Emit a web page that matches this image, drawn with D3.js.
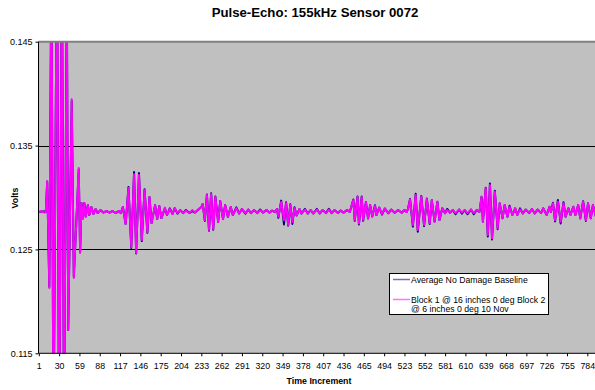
<!DOCTYPE html>
<html><head><meta charset="utf-8">
<script src="https://cdn.jsdelivr.net/npm/d3@7"></script>
<style>
html,body{margin:0;padding:0;background:#fff;}
svg{display:block;font-family:"Liberation Sans",Arial,sans-serif;}
</style></head>
<body><svg id="c" width="595" height="390"></svg>
<script>
// ---- data ----
const chartTitle = "Pulse-Echo: 155kHz Sensor 0072";
const xTitle = "Time Increment";
const yTitle = "Volts";
const seriesNames = ["Average No Damage Baseline", "Block 1 @ 16 inches 0 deg Block 2", "@ 6 inches 0 deg 10 Nov"];
const xTickLabels = [1,30,59,88,117,146,175,204,233,262,291,320,349,378,407,436,465,494,523,552,581,610,639,668,697,726,755,784];
const yTickValues = [0.115,0.125,0.135,0.145];

const sampleIdx = [
1,5,9,11,13,16,19,22,27,30,34,37,41,43,48,51,58,60,62,64,66,68,71,73,76,79,82,85,89,93,98,102,106,111,115,118,
121,125,129,133,137,140,144,148,152,156,159,162,167,170,173,176,181,184,188,192,195,199,203,207,211,216,220,224,228,
233,235,238,241,244,247,250,253,257,260,264,267,271,275,278,283,287,291,296,300,304,308,313,317,321,326,330,334,338,
341,343,347,351,354,357,360,363,366,369,373,376,381,385,389,393,398,402,406,411,415,419,423,428,432,436,441,445,
447,450,452,456,458,462,464,468,471,474,477,481,483,487,491,495,500,504,509,514,519,523,526,
528,531,535,539,542,547,551,555,559,562,566,570,573,577,581,584,588,592,596,601,605,609,613,618,622,626,630,
633,635,639,642,645,648,652,656,659,663,666,670,673,677,681,684,688,692,696,701,705,709,713,718,
721,726,730,732,735,738,742,746,750,753,757,760,764,767,771,774,778,782,785,789,792,796,799
];

// Block 1 @ 16in / Block 2 @ 6in (magenta)
const blockSeries = [
0.12860,0.12870,0.12855,0.12860,0.13158,0.12129,0.153,0.106,0.156,0.104,0.154,0.107,0.150,0.11725,0.13947,0.12225,0.13283,0.12466,0.12947,0.12793,0.12947,0.12812,0.12927,0.12831,0.12908,0.12841,0.12889,0.12850,0.12879,0.12855,0.12870,0.12855,0.12870,0.12850,0.12870,0.12850,
0.12908,0.12745,0.13091,0.12523,0.13225,0.12466,0.13216,0.12591,0.13072,0.12668,0.13004,0.12754,0.12927,0.12793,0.12918,0.12802,0.12903,0.12831,0.12889,0.12841,0.12898,0.12850,0.12879,0.12850,0.12874,0.12850,0.12879,0.12855,0.12879,
0.12908,0.12937,0.12783,0.13023,0.12687,0.13033,0.12697,0.13004,0.12764,0.12966,0.12793,0.12927,0.12812,0.12908,0.12831,0.12898,0.12846,0.12889,0.12850,0.12884,0.12850,0.12879,0.12850,0.12879,0.12855,0.12879,0.12855,0.12874,0.12860,
0.12889,0.12815,0.12956,0.12783,0.12947,0.12735,0.12927,0.12764,0.12898,0.12826,0.12889,0.12846,0.12884,0.12846,0.12879,0.12846,0.12884,0.12846,0.12879,0.12850,0.12884,0.12850,0.12879,0.12850,0.12874,0.12855,0.12879,0.12860,
0.12908,0.12975,0.12783,0.13004,0.12749,0.13004,0.12783,0.12956,0.12798,0.12927,0.12817,0.12918,0.12831,0.12903,0.12841,0.12894,0.12848,0.12884,0.12853,0.12879,0.12853,0.12879,0.12860,
0.12889,0.12980,0.12735,0.13023,0.12687,0.13009,0.12735,0.12985,0.12751,0.12975,0.12767,0.12959,0.12783,0.12896,0.12848,0.12879,0.12853,0.12879,0.12850,0.12884,0.12855,0.12879,0.12850,0.12884,0.12850,0.12879,0.12860,
0.13007,0.12767,0.13088,0.12639,0.13120,0.12607,0.13055,0.12703,0.12944,0.12799,0.12927,0.12815,0.12911,0.12831,0.12896,0.12831,0.12886,0.12846,0.12884,0.12850,0.12889,0.12846,0.12884,0.12850,
0.12896,0.12831,0.12911,0.12860,0.12944,0.12783,0.12959,0.12767,0.12944,0.12815,0.12896,0.12831,0.12911,0.12831,0.12927,0.12799,0.12959,0.12783,0.12944,0.12799,0.12927,0.12822,0.12889
];

// Average No Damage Baseline (navy)
const baselineSeries = [
0.12860,0.12865,0.12865,0.12860,0.13150,0.12140,0.153,0.106,0.156,0.104,0.154,0.107,0.150,0.11725,0.13930,0.12240,0.13270,0.12480,0.12947,0.12800,0.12947,0.12820,0.12927,0.12831,0.12908,0.12841,0.12889,0.12850,0.12879,0.12855,0.12870,0.12855,0.12870,0.12850,0.12870,0.12850,
0.12908,0.12745,0.13100,0.12515,0.13245,0.12460,0.13235,0.12580,0.13080,0.12660,0.13004,0.12754,0.12927,0.12793,0.12918,0.12802,0.12895,0.12831,0.12895,0.12841,0.12898,0.12845,0.12879,0.12850,0.12880,0.12850,0.12870,0.12855,0.12879,
0.12908,0.12937,0.12775,0.13030,0.12680,0.13040,0.12690,0.13010,0.12764,0.12966,0.12793,0.12927,0.12812,0.12908,0.12831,0.12905,0.12846,0.12889,0.12845,0.12884,0.12850,0.12879,0.12850,0.12885,0.12855,0.12879,0.12855,0.12874,0.12860,
0.12889,0.12805,0.12970,0.12740,0.12955,0.12730,0.12935,0.12745,0.12905,0.12826,0.12889,0.12846,0.12890,0.12846,0.12879,0.12846,0.12890,0.12846,0.12879,0.12850,0.12890,0.12850,0.12879,0.12850,0.12874,0.12855,0.12879,0.12860,
0.12908,0.12980,0.12775,0.13010,0.12740,0.13010,0.12775,0.12956,0.12798,0.12927,0.12817,0.12925,0.12831,0.12903,0.12835,0.12894,0.12848,0.12884,0.12853,0.12879,0.12853,0.12879,0.12860,
0.12889,0.12985,0.12720,0.13035,0.12670,0.13015,0.12725,0.12990,0.12745,0.12975,0.12767,0.12959,0.12783,0.12896,0.12848,0.12890,0.12853,0.12879,0.12840,0.12884,0.12845,0.12879,0.12840,0.12884,0.12840,0.12879,0.12860,
0.13007,0.12767,0.13095,0.12625,0.13135,0.12595,0.13065,0.12695,0.12944,0.12799,0.12927,0.12815,0.12920,0.12831,0.12896,0.12831,0.12895,0.12846,0.12884,0.12850,0.12889,0.12846,0.12884,0.12850,
0.12896,0.12831,0.12911,0.12860,0.12950,0.12770,0.12975,0.12750,0.12955,0.12815,0.12896,0.12831,0.12911,0.12831,0.12927,0.12799,0.12965,0.12775,0.12944,0.12799,0.12927,0.12822,0.12889
];

// ---- drawing ----
const svg = d3.select("#c");
const plotL = 38.5, plotR = 600, plotT = 41.7, plotB = 353.3;
const x = d3.scaleLinear().domain([1,784]).range([38.8,587.3]);
const y = d3.scaleLinear().domain([0.115,0.145]).range([plotB, plotT]);

svg.append("rect").attr("x",0).attr("y",0).attr("width",595).attr("height",390).attr("fill","#fff");
svg.append("rect").attr("x",plotL).attr("y",plotT).attr("width",plotR-plotL).attr("height",plotB-plotT).attr("fill","#C0C0C0");

svg.append("defs").append("clipPath").attr("id","clip")
  .append("rect").attr("x",plotL).attr("y",plotT).attr("width",plotR-plotL).attr("height",plotB-plotT);

// gridlines
svg.append("g").selectAll("line").data(yTickValues.filter(v=>v>0.115 && v<0.145)).join("line")
  .attr("x1",plotL).attr("x2",plotR)
  .attr("y1",d=>Math.round(y(d))+0.5).attr("y2",d=>Math.round(y(d))+0.5)
  .attr("stroke","#000").attr("stroke-width",1);

// series
const line = d3.line().x((d,i)=>x(sampleIdx[i])).y(d=>y(d));
const g = svg.append("g").attr("clip-path","url(#clip)");
g.append("path").datum(baselineSeries).attr("d",line).attr("fill","none")
  .attr("stroke","#000080").attr("stroke-width",2).attr("stroke-linejoin","round");
g.append("path").datum(blockSeries).attr("d",line).attr("fill","none")
  .attr("stroke","#FF00FF").attr("stroke-width",2).attr("stroke-linejoin","round");

// top border (0.145)
svg.append("line").attr("x1",plotL).attr("x2",plotR).attr("y1",y(0.145)).attr("y2",y(0.145))
  .attr("stroke","#808080").attr("stroke-width",2);

// y axis
const yAxis = svg.append("g").attr("transform",`translate(${plotL},0)`)
  .call(d3.axisLeft(y).tickValues(yTickValues).tickSize(3).tickPadding(3).tickFormat(d3.format(".3f")));
yAxis.select(".domain").attr("stroke","#000").attr("d",`M0,${plotT}V${plotB}`);
yAxis.selectAll(".tick line").attr("stroke","#000");
yAxis.selectAll("text").attr("font-size","9px").attr("fill","#000").attr("font-family","Liberation Sans, Arial");

// x axis
const xAxis = svg.append("g").attr("transform",`translate(0,${plotB})`)
  .call(d3.axisBottom(x).tickValues(xTickLabels).tickSize(3).tickPadding(6).tickFormat(d3.format("d")));
xAxis.select(".domain").attr("stroke","#000").attr("d",`M${plotL},0H${plotR}`);
xAxis.selectAll(".tick line").attr("stroke","#000");
xAxis.selectAll("text").attr("font-size","8.8px").attr("fill","#000").attr("font-family","Liberation Sans, Arial");

// titles
svg.append("text").attr("x",315).attr("y",17).attr("text-anchor","middle")
  .attr("font-size","13.2px").attr("font-weight","bold").text(chartTitle);
svg.append("text").attr("x",319).attr("y",384).attr("text-anchor","middle")
  .attr("font-size","8.8px").attr("font-weight","bold").text(xTitle);
svg.append("text").attr("transform","translate(18,198) rotate(-90)").attr("text-anchor","middle")
  .attr("font-size","8.8px").attr("font-weight","bold").text(yTitle);

// legend
const lg = svg.append("g");
lg.append("rect").attr("x",389.5).attr("y",273.5).attr("width",159).attr("height",41)
  .attr("fill","#fff").attr("stroke","#000").attr("stroke-width",1);
lg.append("line").attr("x1",393).attr("x2",410).attr("y1",279.5).attr("y2",279.5)
  .attr("stroke","#000080").attr("stroke-width",1.5).attr("opacity",0.55);
lg.append("line").attr("x1",393).attr("x2",410).attr("y1",299.5).attr("y2",299.5)
  .attr("stroke","#FF00FF").attr("stroke-width",1.5).attr("opacity",0.55);
lg.append("text").attr("x",411).attr("y",283).attr("font-size","8.7px").text(seriesNames[0]);
lg.append("text").attr("x",411).attr("y",303.3).attr("font-size","8.7px").text(seriesNames[1]);
lg.append("text").attr("x",411).attr("y",312).attr("font-size","8.7px").text(seriesNames[2]);
</script></body></html>
